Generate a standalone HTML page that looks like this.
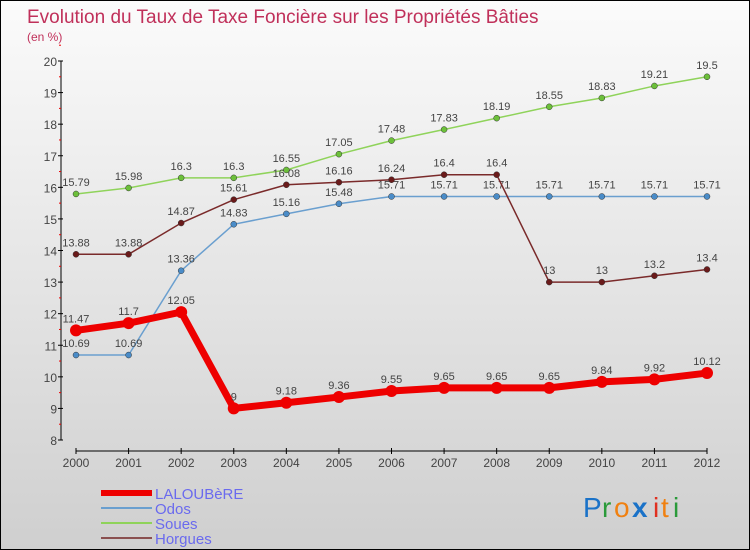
<!DOCTYPE html>
<html><head><meta charset="utf-8"><style>
body{margin:0}
#c{width:748px;height:548px;border:1px solid #000;background:linear-gradient(#fbfbfb,#cfcfcf);position:relative;font-family:"Liberation Sans",sans-serif;overflow:hidden}
svg{position:absolute;left:0;top:0}
</style></head><body>
<div id="c">
<svg id="s" width="748" height="548">
<text x="26" y="22" font-size="19" fill="#c0305a">Evolution du Taux de Taxe Foncière sur les Propriétés Bâties</text>
<text x="26" y="40" font-size="12" fill="#c0305a">(en %)</text>
<g id="ax"></g><g id="ser"></g><g id="leg"></g>
<g font-size="28" font-family="Liberation Sans,sans-serif">
<text x="582" y="516" fill="#1a72c8">P</text><text x="601" y="516" fill="#2a9a3a">r</text><text x="613" y="516" fill="#f08010">o</text><text x="631" y="516" fill="#1a72c8" font-weight="bold">x</text><text x="652" y="516" fill="#e03020">i</text><text x="660" y="516" fill="#f08010">t</text><text x="672" y="516" fill="#2a9a3a">i</text>
</g>
</svg></div>
<script>
const years=[2000,2001,2002,2003,2004,2005,2006,2007,2008,2009,2010,2011,2012];
const laloubere=[11.47,11.7,12.05,9,9.18,9.36,9.55,9.65,9.65,9.65,9.84,9.92,10.12];
const odos=[10.69,10.69,13.36,14.83,15.16,15.48,15.71,15.71,15.71,15.71,15.71,15.71,15.71];
const soues=[15.79,15.98,16.3,16.3,16.55,17.05,17.48,17.83,18.19,18.55,18.83,19.21,19.5];
const horgues=[13.88,13.88,14.87,15.61,16.08,16.16,16.24,16.4,16.4,13,13,13.2,13.4];
const yTicks=[8,9,10,11,12,13,14,15,16,17,18,19,20];
const NS="http://www.w3.org/2000/svg";
const X=i=>75+i*(706-75)/12, Y=v=>439-(v-8)*(439-60)/12;
function mk(t,a,p){const e=document.createElementNS(NS,t);for(const k in a)e.setAttribute(k,a[k]);p.appendChild(e);return e;}
const ax=document.getElementById('ax');
const ya=mk('line',{x1:60,y1:60,x2:60,y2:439,stroke:'#000'},ax);


yTicks.forEach(v=>{mk('line',{x1:57,x2:62,y1:Y(v),y2:Y(v),stroke:'#000'},ax);
 mk('line',{x1:58,x2:60,y1:Y(v+0.5),y2:Y(v+0.5),stroke:'#e00'},ax);
 const t=mk('text',{x:56,y:Y(v)+5,'text-anchor':'end','font-size':12,fill:'#444'},ax);t.textContent=v;
 
 });
const xa=mk('line',{x1:75,y1:450,x2:706,y2:450,stroke:'#000'},ax);


years.forEach((y,i)=>{mk('line',{x1:X(i),x2:X(i),y1:447,y2:453,stroke:'#000'},ax);
 const t=mk('text',{x:X(i),y:466,'text-anchor':'middle','font-size':12,fill:'#444'},ax);t.textContent=y;
 
 });
const ser=document.getElementById('ser');
const defs=[['soues',soues,'#8fd35a','#6cc03a',1.5,3],['odos',odos,'#6a9fcf','#4a8cc8',1.5,3],['horgues',horgues,'#7a2a2a','#6a1a1a',1.5,3],['laloubere',laloubere,'#ee0000','#ee0000',7,6]];
defs.forEach(([n,d,c,pc,w,r])=>{
 const g=mk('g',{},ser);
 
 
 const l=mk('polyline',{points:d.map((v,i)=>X(i)+','+Y(v)).join(' '),fill:'none',stroke:c,'stroke-width':w},g);
 
 
 d.forEach((v,i)=>{const p=mk('circle',{cx:X(i),cy:Y(v),r:r,fill:pc,stroke:w>2?'none':'#333','stroke-width':0.5},g);
  
  
  const t=mk('text',{x:X(i),y:Y(v)-8,'text-anchor':'middle','font-size':11,fill:'#444'},g);t.textContent=v;
  
  });
});
const leg=document.getElementById('leg');
[['LALOUBèRE','#ee0000',6],['Odos','#6a9fcf',2],['Soues','#8fd35a',2],['Horgues','#8a5050',2]].forEach(([n,c,w],i)=>{
 const y=492+i*15;
 const g=mk('g',{},leg);
 
 
 mk('line',{x1:100,x2:151,y1:y,y2:y,stroke:c,'stroke-width':w},g);
 const t=mk('text',{x:154,y:y+6,'font-size':15,fill:'#6a6aee'},g);t.textContent=n;});
</script></body></html>
